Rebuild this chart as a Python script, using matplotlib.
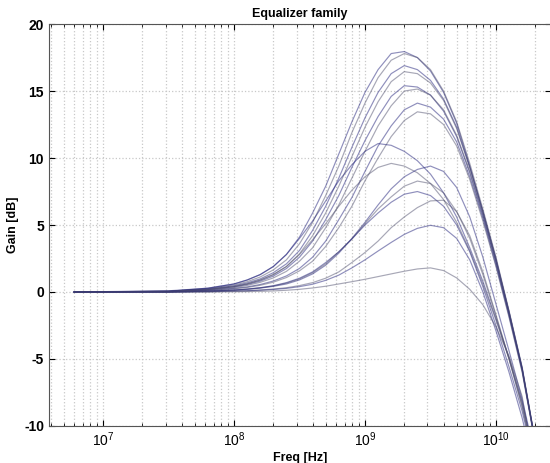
import matplotlib
matplotlib.use("Agg")
import matplotlib.pyplot as plt
import numpy as np

plt.rcParams['font.family'] = ['Liberation Sans', 'DejaVu Sans']
plt.rcParams['axes.unicode_minus'] = False

# frequency grid, log10(Hz)
log_freq = [6.78, 7.5, 7.8, 8.0, 8.1, 8.2, 8.3, 8.4, 8.5, 8.6, 8.7, 8.8, 8.9, 9.0,
            9.1, 9.2, 9.3, 9.4, 9.5, 9.6, 9.7, 9.8, 9.9, 10.0, 10.1, 10.2, 10.3]

# gain [dB] of each equalizer setting
g01 = [0, 0.05, 0.29, 0.6, 0.9, 1.3, 1.9, 2.8, 4.1, 5.9, 7.9, 10.3, 12.7, 14.9, 16.6, 17.8, 17.95, 17.5, 16.5, 14.9, 12.6, 9.4, 6.0, 2.5, -1.5, -5.7, -11.2]
g02 = [0, 0.06, 0.25, 0.52, 0.77, 1.12, 1.65, 2.4, 3.6, 5.2, 7.2, 9.4, 11.9, 14.1, 16.0, 17.3, 17.8, 17.5, 16.6, 15.0, 12.7, 9.6, 6.2, 2.6, -1.4, -5.6, -11.1]
g03 = [0, 0.05, 0.22, 0.46, 0.68, 0.98, 1.44, 2.1, 3.1, 4.6, 6.4, 8.5, 10.8, 13.0, 14.9, 16.3, 16.9, 16.6, 15.8, 14.4, 12.3, 9.3, 6.0, 2.4, -1.5, -5.7, -11.2]
g04 = [0, 0.04, 0.2, 0.41, 0.61, 0.89, 1.3, 1.9, 2.85, 4.2, 5.9, 7.9, 10.1, 12.3, 14.2, 15.7, 16.45, 16.3, 15.6, 14.3, 12.2, 9.3, 6.0, 2.4, -1.5, -5.7, -11.2]
g05 = [0, 0.04, 0.18, 0.38, 0.56, 0.81, 1.19, 1.75, 2.6, 3.8, 5.4, 7.2, 9.3, 11.3, 13.1, 14.6, 15.4, 15.3, 14.7, 13.5, 11.6, 8.9, 5.7, 2.2, -1.7, -5.8, -11.2]
g06 = [0, 0.03, 0.16, 0.33, 0.49, 0.72, 1.05, 1.54, 2.3, 3.3, 4.8, 6.5, 8.5, 10.5, 12.4, 13.9, 15.0, 15.15, 14.7, 13.6, 11.7, 9.0, 5.8, 2.3, -1.6, -5.8, -11.2]
g07 = [0, 0.02, 0.13, 0.27, 0.38, 0.56, 0.82, 1.2, 1.76, 2.6, 3.8, 5.4, 7.05, 9.0, 10.9, 12.4, 13.6, 14.1, 13.8, 12.9, 11.2, 8.6, 5.5, 2.0, -1.8, -5.9, -11.3]
g08 = [0, 0.02, 0.11, 0.24, 0.34, 0.5, 0.73, 1.08, 1.58, 2.3, 3.4, 4.8, 6.4, 8.3, 10.0, 11.6, 12.8, 13.45, 13.3, 12.5, 10.9, 8.4, 5.3, 1.9, -1.9, -6.0, -11.3]
g09 = [0, 0.09, 0.28, 0.6, 0.89, 1.3, 1.9, 2.8, 4.0, 5.3, 6.8, 8.3, 9.5, 10.5, 11.08, 10.95, 10.5, 9.8, 8.8, 7.4, 5.6, 3.3, 0.8, -2.0, -4.9, -8.2, -12.5]
g10 = [0, 0.06, 0.19, 0.41, 0.6, 0.89, 1.3, 1.9, 2.8, 3.9, 5.1, 6.4, 7.6, 8.6, 9.3, 9.6, 9.4, 8.9, 8.1, 6.9, 5.2, 3.1, 0.6, -2.1, -5.0, -8.3, -12.6]
g11 = [0, 0, 0.06, 0.13, 0.2, 0.29, 0.42, 0.6, 0.9, 1.35, 2.0, 2.9, 4.0, 5.2, 6.5, 7.7, 8.6, 9.15, 9.4, 9.0, 7.8, 5.6, 2.6, -0.9, -4.4, -8.0, -12.3]
g12 = [0, 0, 0.07, 0.15, 0.21, 0.31, 0.45, 0.66, 0.97, 1.44, 2.1, 3.0, 3.95, 5.1, 6.2, 7.1, 7.9, 8.28, 8.1, 7.4, 6.0, 4.0, 1.3, -1.8, -5.0, -8.5, -12.8]
g13 = [0, 0, 0.07, 0.15, 0.22, 0.32, 0.47, 0.7, 1.03, 1.5, 2.2, 3.0, 3.96, 5.0, 5.9, 6.7, 7.3, 7.5, 7.2, 6.4, 5.0, 3.0, 0.4, -2.5, -5.6, -8.9, -13.0]
g14 = [0, 0, 0.03, 0.08, 0.1, 0.15, 0.22, 0.32, 0.48, 0.7, 1.03, 1.5, 2.2, 2.95, 3.8, 4.8, 5.6, 6.3, 6.8, 6.85, 6.0, 4.2, 1.5, -1.7, -5.0, -8.6, -12.9]
g15 = [0, 0, 0.02, 0.06, 0.09, 0.13, 0.19, 0.27, 0.4, 0.58, 0.87, 1.26, 1.8, 2.4, 3.06, 3.7, 4.3, 4.75, 4.98, 4.8, 4.0, 2.4, 0.0, -2.9, -6.0, -9.4, -13.5]
g16 = [0, 0, 0, 0.02, 0.03, 0.05, 0.08, 0.13, 0.2, 0.3, 0.43, 0.6, 0.77, 0.95, 1.15, 1.35, 1.55, 1.72, 1.8, 1.6, 1.05, 0.2, -0.95, -2.6, -4.8, -7.8, -13.5]

curves = [g01, g02, g03, g04, g05, g06, g07, g08,
          g09, g10, g11, g12, g13, g14, g15, g16]

freq = 10 ** np.array(log_freq)

fig = plt.figure(figsize=(5.5, 4.63), dpi=100)
ax = fig.add_axes([0.089, 0.080, 0.913, 0.868])

for i, g in enumerate(curves):
    col = '#20207a' if i % 2 == 0 else '#50506e'
    ax.semilogx(freq, g, color=col, lw=0.85, alpha=0.5,
                solid_joinstyle='round')

ax.set_xlim(10 ** 6.587, 10 ** 10.421)
ax.set_ylim(-10, 20)
ax.set_yticks([-10, -5, 0, 5, 10, 15, 20])

ax.grid(True, which='major', color='#c8c8c8', linestyle=':', linewidth=0.9)
ax.grid(True, which='minor', axis='x', color='#c8c8c8', linestyle=':', linewidth=0.9)
ax.tick_params(which='both', direction='in', top=True, right=True, labelsize=10)
ax.tick_params(which='major', length=4)
ax.tick_params(which='minor', length=2.5)
for s in ax.spines.values():
    s.set_color('#555555')

ax.set_title('Equalizer family', fontsize=9, fontweight='bold', pad=5)
ax.set_xlabel('Freq [Hz]', fontsize=9, fontweight='bold', labelpad=2)
ax.set_ylabel('Gain [dB]', fontsize=9, fontweight='bold', labelpad=4)
for lab in ax.get_yticklabels():
    lab.set_fontweight('bold')

fig.savefig('out.png', dpi=100)
